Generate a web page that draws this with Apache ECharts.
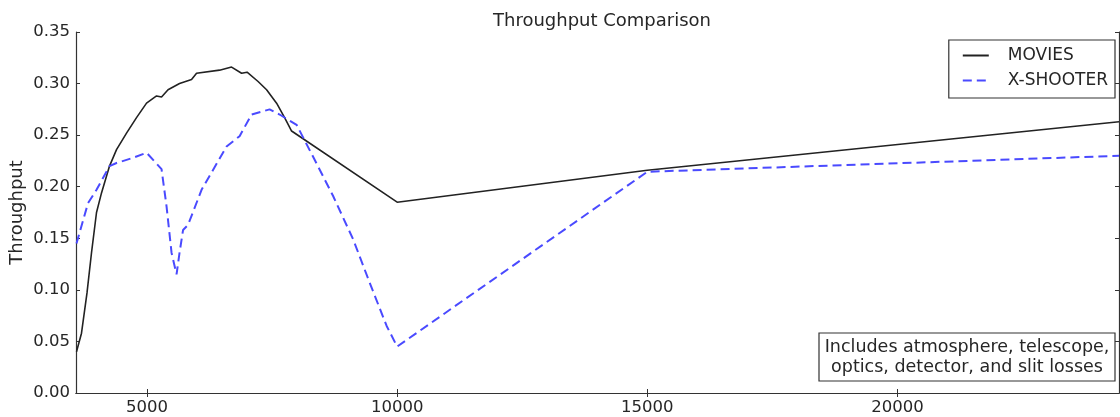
<!DOCTYPE html>
<html>
<head>
<meta charset="utf-8">
<script src="https://cdn.jsdelivr.net/npm/echarts@6/dist/echarts.min.js"></script>
<style>
  html, body { margin: 0; padding: 0; background: #fff; }
  #chart { width: 1120px; height: 417px; }
</style>
</head>
<body>
<div id="chart"></div>
<script>
// wavelength (Angstrom) / throughput
var moviesWave = [3590, 3690, 3800, 3890, 3990, 4090, 4250, 4390, 4590, 4790, 4990, 5190, 5290, 5420, 5650, 5890, 5990, 6450, 6690, 6890, 7000, 7220, 7390, 7590, 7750, 7890, 10000, 15000, 24430]
var moviesThru = [0.040, 0.058, 0.097, 0.136, 0.175, 0.194, 0.220, 0.236, 0.252, 0.267, 0.281, 0.288, 0.287, 0.294, 0.300, 0.304, 0.310, 0.313, 0.316, 0.310, 0.311, 0.302, 0.294, 0.281, 0.267, 0.254, 0.185, 0.216, 0.263]

var xshooterWave = [3590, 3820, 3990, 4250, 4390, 4720, 4990, 5290, 5390, 5490, 5590, 5650, 5720, 5820, 6090, 6590, 6850, 7090, 7450, 7650, 7990, 8320, 8720, 9120, 9450, 9790, 10000, 15000, 24430]
var xshooterThru = [0.145, 0.184, 0.197, 0.220, 0.223, 0.228, 0.233, 0.217, 0.181, 0.136, 0.115, 0.136, 0.158, 0.163, 0.197, 0.239, 0.249, 0.270, 0.275, 0.270, 0.260, 0.229, 0.191, 0.149, 0.107, 0.065, 0.045, 0.2145, 0.230]

var xTicks = [5000, 10000, 15000, 20000]
var xMin = 3580
var xMax = 24430

var noteLines = ['Includes atmosphere, telescope,', 'optics, detector, and slit losses']

function pairs(xs, ys) {
  return xs.map(function (x, i) { return [x, ys[i]] })
}

var font = 'DejaVu Sans'
var ink = '#262626'

var chart = echarts.init(document.getElementById('chart'))
chart.setOption({
  animation: false,
  textStyle: { fontFamily: font },
  title: {
    text: 'Throughput Comparison',
    left: 597,
    top: 7,
    textAlign: 'center',
    textStyle: { fontFamily: font, fontSize: 18, fontWeight: 'normal', color: ink }
  },
  legend: {
    orient: 'vertical',
    right: 5,
    top: 40,
    padding: [7, 7, 9, 13],
    itemGap: 8,
    itemWidth: 26,
    itemHeight: 18,
    borderColor: '#333',
    borderWidth: 1.2,
    borderRadius: 0,
    itemStyle: { opacity: 0 },
    textStyle: { fontFamily: font, fontSize: 17, color: ink, padding: [0, 0, 0, 14] },
    data: ['MOVIES', 'X-SHOOTER']
  },
  grid: { left: 76, right: 1, top: 32, bottom: 24, containLabel: false, outerBoundsMode: 'none' },
  xAxis: [{
    type: 'value',
    min: xMin,
    max: xMax,
    axisLine: { lineStyle: { color: '#333', width: 1.2 } },
    axisTick: { inside: true, length: 4, customValues: xTicks, lineStyle: { color: '#333' } },
    axisLabel: {
      customValues: xTicks, fontFamily: font, fontSize: 16.5, color: ink, margin: 6,
      formatter: function (v) { return String(v) }
    },
    splitLine: { show: false }
  }, {
    type: 'value',
    position: 'top',
    min: xMin,
    max: xMax,
    axisLine: { show: true, lineStyle: { color: '#333', width: 1.2 } },
    axisTick: { inside: true, length: 4, customValues: xTicks, lineStyle: { color: '#333' } },
    axisLabel: { show: false },
    splitLine: { show: false }
  }],
  yAxis: [{
    type: 'value',
    min: 0,
    max: 0.35,
    interval: 0.05,
    name: 'Throughput',
    nameLocation: 'middle',
    nameGap: 50,
    nameMoveOverlap: false,
    nameTextStyle: { fontFamily: font, fontSize: 18, color: ink },
    axisLine: { show: true, lineStyle: { color: '#333', width: 1.2 } },
    axisTick: { show: true, inside: true, length: 4, lineStyle: { color: '#333' } },
    axisLabel: {
      fontFamily: font, fontSize: 16.5, color: ink, margin: 6,
      formatter: function (v) { return v.toFixed(2) }
    },
    splitLine: { show: false }
  }, {
    type: 'value',
    position: 'right',
    min: 0,
    max: 0.35,
    interval: 0.05,
    axisLine: { show: true, lineStyle: { color: '#333', width: 1.2 } },
    axisTick: { show: true, inside: true, length: 4, lineStyle: { color: '#333' } },
    axisLabel: { show: false },
    splitLine: { show: false }
  }],
  series: [{
    name: 'MOVIES',
    type: 'line',
    symbol: 'none',
    data: pairs(moviesWave, moviesThru),
    lineStyle: { color: '#222', width: 1.6 },
    itemStyle: { color: '#222' }
  }, {
    name: 'X-SHOOTER',
    type: 'line',
    symbol: 'none',
    data: pairs(xshooterWave, xshooterThru),
    lineStyle: { color: '#4a4aff', width: 2, type: [9, 5] },
    itemStyle: { color: '#4a4aff' }
  }],
  graphic: [{
    type: 'rect',
    shape: { x: 819, y: 333, width: 296, height: 48 },
    style: { fill: '#fff', stroke: '#333', lineWidth: 1.2 },
    z: 100
  }, {
    type: 'text',
    x: 967,
    y: 357,
    style: {
      text: noteLines.join('\n'),
      fontFamily: font,
      fontSize: 17.5,
      lineHeight: 20,
      fill: ink,
      align: 'center',
      verticalAlign: 'middle'
    },
    z: 101
  }]
})
</script>
</body>
</html>
